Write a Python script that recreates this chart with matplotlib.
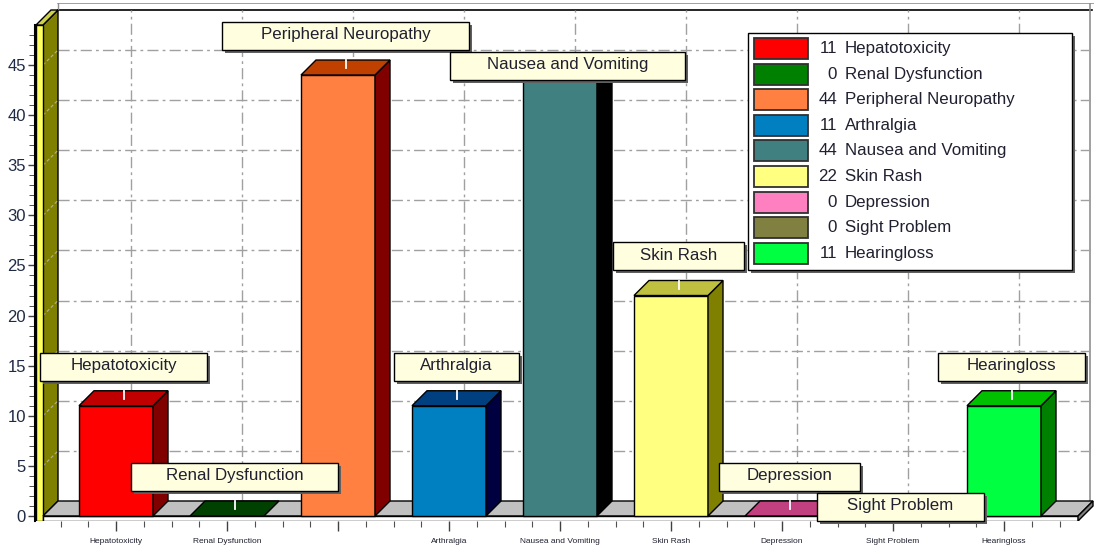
import numpy as np
import matplotlib.pyplot as plt
from matplotlib.patches import Polygon, Rectangle
from matplotlib.transforms import IdentityTransform

plt.rcParams['font.family'] = ['Liberation Sans', 'DejaVu Sans']

# adverse event counts
categories = ['Hepatotoxicity', 'Renal Dysfunction', 'Peripheral Neuropathy', 'Arthralgia',
              'Nausea and Vomiting', 'Skin Rash', 'Depression', 'Sight Problem', 'Hearingloss']
values = [11, 0, 44, 11, 44, 22, 0, 0, 11]
tick_labels = ['Hepatotoxicity', 'Renal Dysfunction', '', 'Arthralgia', 'Nausea and Vomiting',
               'Skin Rash', 'Depression', 'Sight Problem', 'Hearingloss']

front_colors = ['#ff0000', '#008000', '#ff8040', '#0080c0', '#408080',
                '#ffff80', '#ff80c0', '#808040', '#00ff40']
top_colors = ['#c00000', '#004000', '#c04000', '#004080', '#306060',
              '#c0c040', '#c04080', '#606030', '#00c000']
side_colors = ['#800000', '#002000', '#800000', '#000040', '#000000',
               '#808000', '#802050', '#404020', '#008000']

# labels that would collide get pushed down a little
label_nudge = [0, 0, 0, 0, -3, 0, 0, -3, 0]

W, H = 1094, 547
fig = plt.figure(figsize=(W / 100, H / 100), dpi=100)

# axes frame in pixels (from top-left)
ax_l, ax_r, ax_t, ax_b = 35, 1094, 3, 521
ax = fig.add_axes([ax_l / W, 1 - ax_b / H, (ax_r - ax_l) / W, (ax_b - ax_t) / H])

px_cat = 111.0          # pixels per category
cx0 = 116               # pixel x of first category
px_unit = 451 / 45      # pixels per value unit
zero_y = 516            # pixel y of value 0

def xu(px):
    return (px - cx0) / px_cat

def yu(py):
    return (zero_y - py) / px_unit

ax.set_xlim(xu(ax_l), xu(ax_r))
ax.set_ylim(yu(ax_b), yu(ax_t))

dx = 15 / px_cat
dy = 15 / px_unit
hw = 37 / px_cat
thick = 5 / px_unit

xf0, xf1 = xu(43), xu(1078)
xs0 = xu(36)
wall_top = yu(25)
xb0, xb1 = xf0 + dx, xu(1090)
top_back = wall_top + dy

# back wall + frame
ax.add_patch(Rectangle((xb0, dy), xb1 - xb0, top_back - dy, facecolor='white',
                       edgecolor='none', zorder=0))
ax.plot([xb0, xu(1092)], [top_back, top_back], color='black', lw=1.2, zorder=1)
ax.plot([xb0, xu(1094)], [yu(3), yu(3)], color='#909090', lw=1.2, zorder=1)
ax.plot([xb0, xb0], [top_back, yu(3)], color='#909090', lw=1, zorder=1)
ax.plot([xb1, xb1], [yu(3), dy], color='#909090', lw=1.2, zorder=1)

grid_kw = dict(color='#a0a0a0', lw=1, linestyle=(0, (8, 3, 2, 3)), zorder=1)
for v in range(5, 50, 5):
    ax.plot([xb0, xb1], [v + dy, v + dy], **grid_kw)
for i in range(len(categories)):
    ax.plot([i + dx, i + dx], [dy, top_back], **grid_kw)

# left wall
ax.add_patch(Polygon([(xf0, 0), (xf0 + dx, dy), (xf0 + dx, top_back), (xf0, wall_top)],
                     closed=True, facecolor='#808000', edgecolor='black', lw=1, zorder=2))
for v in range(5, 50, 5):
    ax.plot([xf0, xf0 + dx], [v, v + dy], color='#b0b0a0', lw=0.8,
            linestyle=(0, (3, 2)), zorder=2)
ax.add_patch(Rectangle((xs0, -thick), xf0 - xs0, wall_top + thick, facecolor='#ffff60',
                       edgecolor='black', lw=1, zorder=2))
ax.add_patch(Polygon([(xs0, wall_top), (xf0, wall_top), (xf0 + dx, top_back), (xs0 + dx, top_back)],
                     closed=True, facecolor='#d0d050', edgecolor='black', lw=1, zorder=2))

# floor slab
ax.add_patch(Polygon([(xf0, 0), (xf1, 0), (xf1 + dx, dy), (xf0 + dx, dy)], closed=True,
                     facecolor='#c0c0c0', edgecolor='black', lw=1, zorder=2))
ax.add_patch(Rectangle((xf0, -thick), xf1 - xf0, thick, facecolor='white',
                       edgecolor='black', lw=1, zorder=2))
ax.add_patch(Polygon([(xf1, -thick), (xf1 + dx, dy - thick), (xf1 + dx, dy), (xf1, 0)],
                     closed=True, facecolor='#808080', edgecolor='black', lw=1, zorder=2))

# 3D bars
for i, v in enumerate(values):
    x0, x1 = i - hw, i + hw
    if v > 0:
        ax.add_patch(Rectangle((x0, 0), x1 - x0, v, facecolor=front_colors[i],
                               edgecolor='black', lw=1, zorder=3))
        ax.add_patch(Polygon([(x1, 0), (x1 + dx, dy), (x1 + dx, v + dy), (x1, v)], closed=True,
                             facecolor=side_colors[i], edgecolor='black', lw=1, zorder=3))
    ax.add_patch(Polygon([(x0, v), (x1, v), (x1 + dx, v + dy), (x0 + dx, v + dy)], closed=True,
                         facecolor=top_colors[i], edgecolor='black', lw=1, zorder=3))
    ax.plot([i + dx / 2, i + dx / 2], [v + dy * 0.45, v + dy], color='white', lw=1.3, zorder=4)

# axes styling
for s in ['top', 'right', 'bottom']:
    ax.spines[s].set_visible(False)
ax.spines['left'].set_bounds(-thick, wall_top)
ax.spines['left'].set_linewidth(1.5)
ax.set_facecolor('none')
ax.set_yticks(range(0, 50, 5))
ax.set_yticks(range(0, 49), minor=True)
ax.tick_params(axis='y', which='major', length=5, width=1, color='#404040',
               labelsize=12, labelcolor='#1f2a44', pad=1.5)
ax.tick_params(axis='y', which='minor', length=4, width=0.7, color='#505050')
ax.set_xticks(range(len(categories)))
ax.set_xticklabels(tick_labels)
ax.set_xticks(np.arange(-0.5, 8.75, 0.25), minor=True)
ax.tick_params(axis='x', which='major', length=7, width=1, color='#404040',
               labelsize=6, labelcolor='#202030', pad=5)
ax.tick_params(axis='x', which='minor', length=4, width=0.8, color='#505050')

# value labels
label_texts = []
for i, (name, v) in enumerate(zip(categories, values)):
    t = ax.text(i + dx / 2, v + 4 + label_nudge[i], name, ha='center', va='center',
                fontsize=12.2, color='#202030', zorder=12, clip_on=False)
    label_texts.append(t)

fig.canvas.draw()
renderer = fig.canvas.get_renderer()
ident = IdentityTransform()
for t in label_texts:
    bb = t.get_window_extent(renderer=renderer)
    cx, cy = (bb.x0 + bb.x1) / 2, (bb.y0 + bb.y1) / 2 - 1
    bw, bh = 1.25 * bb.width + 34, 28
    ax.add_patch(Rectangle((cx - bw / 2 + 3, cy - bh / 2 - 3), bw, bh, facecolor='#606060',
                           edgecolor='none', transform=ident, zorder=10, clip_on=False))
    ax.add_patch(Rectangle((cx - bw / 2, cy - bh / 2), bw, bh, facecolor='#ffffe0',
                           edgecolor='black', lw=1, transform=ident, zorder=11, clip_on=False))

# legend box
lx0, lx1, ly0, ly1 = 748, 1072, 33, 270
ax.add_patch(Rectangle((lx0 + 3, H - ly1 - 3), lx1 - lx0, ly1 - ly0, facecolor='#606060',
                       edgecolor='none', transform=ident, zorder=10, clip_on=False))
ax.add_patch(Rectangle((lx0, H - ly1), lx1 - lx0, ly1 - ly0, facecolor='white',
                       edgecolor='black', lw=1, transform=ident, zorder=11, clip_on=False))
for i, (name, v) in enumerate(zip(categories, values)):
    ry = H - (48.5 + 25.6 * i)
    ax.add_patch(Rectangle((754, ry - 10.5), 54, 21, facecolor=front_colors[i],
                           edgecolor='#303030', lw=1.3, transform=ident, zorder=12, clip_on=False))
    ax.text(837, ry, str(v), ha='right', va='center', fontsize=12.2, color='#202030',
            transform=ident, zorder=12, clip_on=False)
    ax.text(845, ry, name, ha='left', va='center', fontsize=12.2, color='#202030',
            transform=ident, zorder=12, clip_on=False)

fig.savefig('out.png', dpi=100)
